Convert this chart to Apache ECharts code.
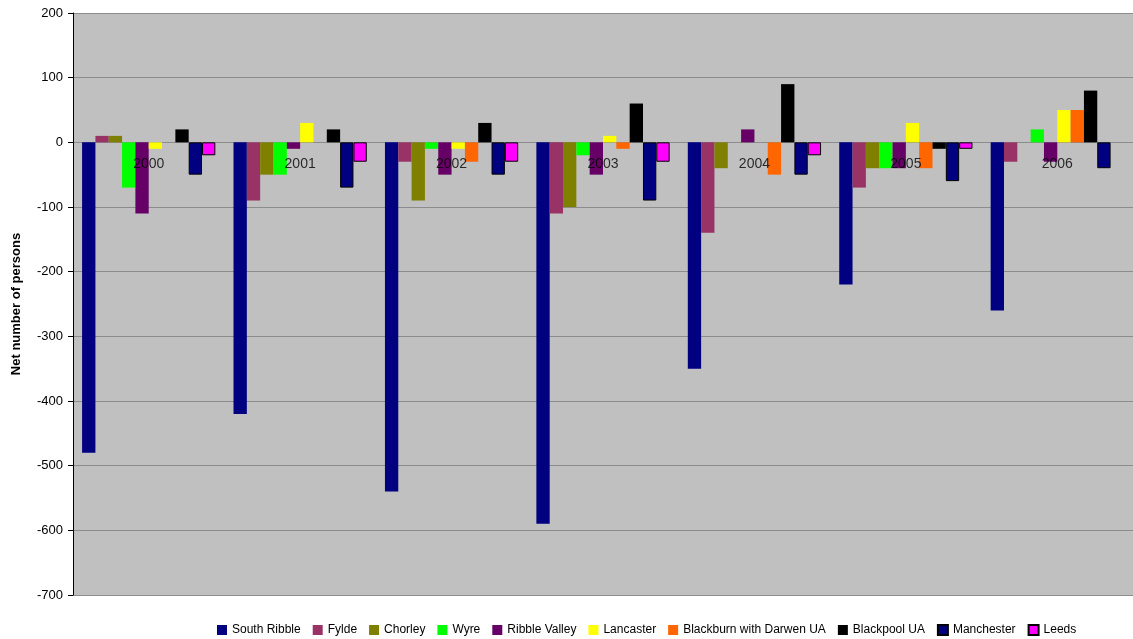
<!DOCTYPE html>
<html>
<head>
<meta charset="utf-8">
<title>Net migration by district, 2000–2006</title>
<script src="https://cdn.jsdelivr.net/npm/echarts@6/dist/echarts.min.js"></script>
<style>
  html, body { margin: 0; padding: 0; background: #ffffff; }
  #chart { width: 1133px; height: 639px; }
</style>
</head>
<body>
<div id="chart"></div>
<script>
// Years along the category axis
const years = ['2000', '2001', '2002', '2003', '2004', '2005', '2006'];

// Net number of persons per district and year
const southRibble  = [-480, -420, -540, -590, -350, -220, -260];
const fylde        = [10, -90, -30, -110, -140, -70, -30];
const chorley      = [10, -50, -90, -100, -40, -40, null];
const wyre         = [-70, -50, -10, -20, null, -40, 20];
const ribbleValley = [-110, -10, -50, -50, 20, -40, -30];
const lancaster    = [-10, 30, -10, 10, null, 30, 50];
const blackburn    = [null, null, -30, -10, -50, -40, 50];
const blackpool    = [20, 20, 30, 60, 90, -10, 80];
const manchester   = [-50, -70, -50, -90, -50, -60, -40];
const leeds        = [-20, -30, -30, -30, -20, -10, null];

// Value axis ticks
const yTicks = { min: -700, max: 200, step: 100 };

const seriesDefs = [
  { name: 'South Ribble', data: southRibble, color: '#000080' },
  { name: 'Fylde', data: fylde, color: '#993366' },
  { name: 'Chorley', data: chorley, color: '#808000' },
  { name: 'Wyre', data: wyre, color: '#00ff00' },
  { name: 'Ribble Valley', data: ribbleValley, color: '#660066' },
  { name: 'Lancaster', data: lancaster, color: '#ffff00' },
  { name: 'Blackburn with Darwen UA', data: blackburn, color: '#ff6600' },
  { name: 'Blackpool UA', data: blackpool, color: '#000000' },
  { name: 'Manchester', data: manchester, color: '#000080', border: true },
  { name: 'Leeds', data: leeds, color: '#ff00ff', border: true }
];

const chart = echarts.init(document.getElementById('chart'), null, { renderer: 'canvas' });

const font = 'Liberation Sans, Arial, Helvetica, sans-serif';

const barSeries = seriesDefs.map(s => ({
  name: s.name,
  type: 'bar',
  data: s.data,
  barGap: '0%',
  barCategoryGap: '12%',
  itemStyle: {
    color: s.color,
    borderColor: s.border ? '#000000' : s.color,
    borderWidth: s.border ? 1 : 0
  }
}));

// Year labels sit just under the zero line, anchored to value 0 of each category
const yearLabels = {
  name: 'yearLabels',
  type: 'scatter',
  silent: true,
  symbolSize: 0,
  z: 10,
  data: years.map(y => [y, 0]),
  label: {
    show: true,
    position: 'bottom',
    distance: 15,
    formatter: p => p.value[0],
    color: '#000000',
    fontSize: 14,
    fontFamily: font
  }
};

chart.setOption({
  animation: false,
  backgroundColor: '#ffffff',
  textStyle: { fontFamily: font },
  grid: {
    left: 73, right: 0, top: 13, bottom: 44,
    show: true, backgroundColor: '#c0c0c0', borderWidth: 0
  },
  legend: {
    left: 212, bottom: -2,
    itemWidth: 10, itemHeight: 10, itemGap: 12,
    icon: 'rect',
    textStyle: { fontFamily: font, fontSize: 12, color: '#000000' },
    data: seriesDefs.map(s => s.name)
  },
  xAxis: {
    type: 'category',
    data: years,
    axisLine: { show: false },
    axisTick: { show: false },
    axisLabel: { show: false },
    splitLine: { show: false }
  },
  yAxis: {
    type: 'value',
    min: yTicks.min, max: yTicks.max, interval: yTicks.step,
    name: 'Net number of persons',
    nameLocation: 'middle',
    nameGap: 50,
    nameTextStyle: { fontSize: 13, fontWeight: 'bold', color: '#000000', fontFamily: font },
    axisLine: { show: true, lineStyle: { color: '#000000', width: 1 } },
    axisTick: { show: true, length: 5, lineStyle: { color: '#000000' } },
    axisLabel: { color: '#000000', fontSize: 13, margin: 10, fontFamily: font },
    splitLine: { show: true, lineStyle: { color: '#8c8c8c', width: 1 } }
  },
  series: barSeries.concat([yearLabels])
});
</script>
</body>
</html>
